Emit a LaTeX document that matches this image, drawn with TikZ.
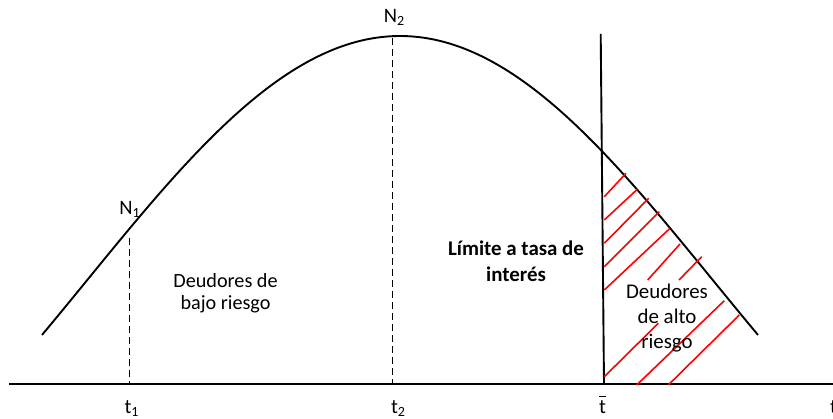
\documentclass[tikz,border=0pt]{standalone}
\usepackage{fontspec}
\setmainfont{Carlito}
\newcommand\subs[1]{\raisebox{-2.5pt}{\fontsize{14}{14}\selectfont #1}}
\begin{document}
\begin{tikzpicture}[x=1pt,y=-1pt,
  axisline/.style={line width=1.9pt, black},
  curveline/.style={line width=1.9pt, black},
  guide/.style={dash pattern=on 7pt off 4pt, line width=1.7pt, black},
  hatch/.style={red, line width=1.6pt},
  lbl/.style={font=\fontsize{20.5}{24}\selectfont, inner sep=0pt, anchor=base},
  txt/.style={inner sep=0pt, align=center}]
\useasboundingbox (0,0) rectangle (833,419);
% axis
\coordinate (ax0) at (9,384);
\coordinate (ax1) at (833,384);
\draw[axisline] (ax0) -- (ax1);
% bell curve
\draw[curveline] plot[domain=42:758, samples=150, smooth] (\x,{36+243.6*(1-cos(0.28808*(\x-400)))});
% vertical limit line
\coordinate (vtop) at (600.7,34);
\coordinate (vbot) at (604,384);
\draw[axisline] (vtop) -- (vbot);
% dashed guides
\coordinate (g1t) at (129.5,238);
\coordinate (g1b) at (129.5,384);
\coordinate (g2t) at (392.5,38);
\coordinate (g2b) at (392.5,384);
\draw[guide] (g1t) -- (g1b);
\draw[guide] (g2t) -- (g2b);
% red hatching
\draw[hatch] (604.3,196.7) -- (626,173.3);
\draw[hatch] (604.3,220) -- (637.3,189.3);
\draw[hatch] (604.3,243.3) -- (648.7,198.3);
\draw[hatch] (604.3,266.7) -- (659.3,211.7);
\draw[hatch] (604.3,290) -- (670,228.3);
\draw[hatch] (647.7,280) -- (680,244);
\draw[hatch] (679,280) -- (701.7,256.7);
\draw[hatch] (604.3,376.7) -- (658.3,323.3);
\draw[hatch] (636.7,385) -- (724.3,300.7);
\draw[hatch] (668.3,385) -- (739.3,315);
% labels
\node[lbl] (n1) at (129.5,215) {N\subs{1}};
\node[lbl] (n2) at (394,23) {N\subs{2}};
\node[lbl] (t1) at (131.5,414) {t\subs{1}};
\node[lbl] (t2) at (398,414) {t\subs{2}};
\node[lbl] (tb) at (602.5,414) {$\overline{\mbox{t\rule{0pt}{16pt}}}$};
\node[lbl, anchor=base west] (tt) at (830,414) {t};
% texts
\node[txt, font=\fontsize{20.2}{22}\selectfont] (low) at (225.5,293.5) {Deudores de\\bajo riesgo};
\node[txt, font=\bfseries\fontsize{20.9}{26}\selectfont] (lim) at (516,261) {Límite a tasa de\\interés};
\node[txt, font=\fontsize{20.9}{25}\selectfont] (high) at (667,318) {Deudores\\de alto\\riesgo};
\end{tikzpicture}
\end{document}
